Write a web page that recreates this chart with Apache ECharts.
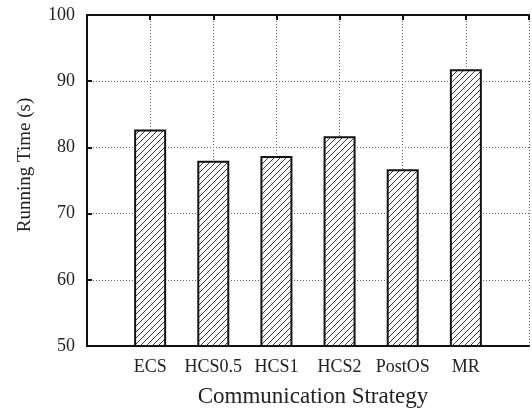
<!DOCTYPE html>
<html>
<head>
<meta charset="utf-8">
<script src="https://cdn.jsdelivr.net/npm/echarts@6/dist/echarts.min.js"></script>
<style>
  html, body { margin: 0; padding: 0; background: #fff; }
  #chart { width: 532px; height: 408px; }
</style>
</head>
<body>
<div id="chart"></div>
<script>
// Running time per communication strategy
const categories = ['ECS', 'HCS0.5', 'HCS1', 'HCS2', 'PostOS', 'MR'];
const runningTime = [82.7, 78.0, 78.7, 81.7, 76.7, 91.8];
const yTicks = [50, 60, 70, 80, 90, 100];

const FONT = '"Liberation Serif", "DejaVu Serif", serif';

// Diagonal hatch tile for the bar fill
function hatchTile() {
  const s = 6;
  const c = document.createElement('canvas');
  c.width = s; c.height = s;
  const g = c.getContext('2d');
  g.fillStyle = '#fff';
  g.fillRect(0, 0, s, s);
  g.strokeStyle = '#222';
  g.lineWidth = 0.9;
  g.beginPath();
  g.moveTo(-1, s + 1); g.lineTo(s + 1, -1);
  g.moveTo(-1, 1); g.lineTo(1, -1);
  g.moveTo(s - 1, s + 1); g.lineTo(s + 1, s - 1);
  g.stroke();
  return c;
}

const chart = echarts.init(document.getElementById('chart'), null, { renderer: 'canvas' });

const dotted = { color: '#666', width: 1, type: [1, 2] };

chart.setOption({
  animation: false,
  backgroundColor: '#fff',
  grid: { left: 87, top: 15, right: -8.6, bottom: 62 },
  xAxis: [
    {
      type: 'value',
      min: 0, max: categories.length + 1, interval: 1,
      axisLine: { lineStyle: { color: '#111', width: 2 } },
      axisTick: { show: false },
      axisLabel: {
        fontFamily: FONT, fontSize: 18, color: '#222', margin: 12,
        formatter: v => categories[v - 1] || ''
      },
      splitLine: { show: true, lineStyle: dotted }
    },
    {
      type: 'value', position: 'top',
      min: 0, max: categories.length + 1, interval: 1,
      axisLine: { lineStyle: { color: '#111', width: 2 } },
      axisTick: { show: true, inside: true, length: 5, lineStyle: { color: '#111', width: 2 } },
      axisLabel: { show: false },
      splitLine: { show: false }
    }
  ],
  yAxis: {
    type: 'value',
    min: yTicks[0], max: yTicks[yTicks.length - 1], interval: 10,
    axisLine: { show: true, lineStyle: { color: '#111', width: 2 } },
    axisTick: { show: true, inside: true, length: 5, lineStyle: { color: '#111', width: 2 } },
    axisLabel: { fontFamily: FONT, fontSize: 18, color: '#222', margin: 12 },
    splitLine: { show: true, lineStyle: dotted }
  },
  graphic: [
    {
      type: 'text', x: 25, y: 165, rotation: Math.PI / 2,
      style: { text: 'Running Time (s)', font: '19px ' + FONT, fill: '#222', textAlign: 'center', textVerticalAlign: 'middle' }
    },
    {
      type: 'text', x: 313, y: 397,
      style: { text: 'Communication Strategy', font: '23px ' + FONT, fill: '#222', textAlign: 'center', textVerticalAlign: 'middle' }
    }
  ],
  series: [{
    type: 'bar',
    xAxisIndex: 0,
    barWidth: 32,
    data: categories.map((c, i) => [i + 1, runningTime[i]]),
    itemStyle: {
      color: { image: hatchTile(), repeat: 'repeat' },
      borderColor: '#111',
      borderWidth: 2
    }
  }]
});
</script>
</body>
</html>
